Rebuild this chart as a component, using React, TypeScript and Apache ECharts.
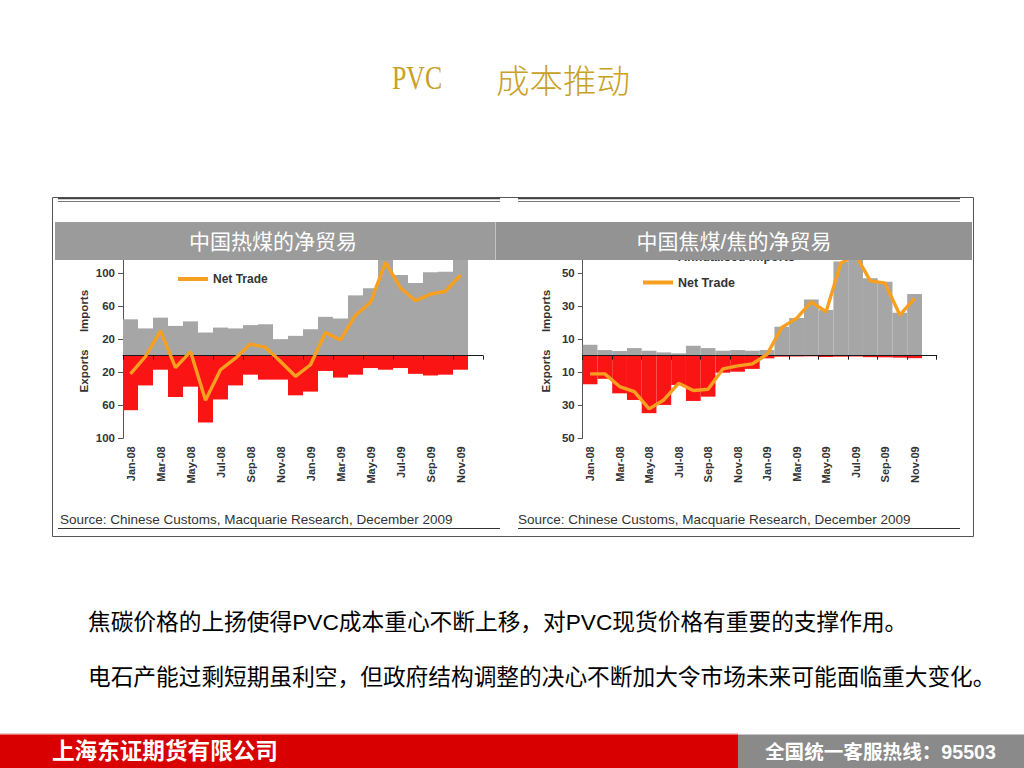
import React, { useEffect, useRef } from 'react';
import * as echarts from 'echarts';

const months = [
  'Jan-08', 'Feb-08', 'Mar-08', 'Apr-08', 'May-08', 'Jun-08', 'Jul-08', 'Aug-08', 'Sep-08', 'Oct-08', 'Nov-08', 'Dec-08',
  'Jan-09', 'Feb-09', 'Mar-09', 'Apr-09', 'May-09', 'Jun-09', 'Jul-09', 'Aug-09', 'Sep-09', 'Oct-09', 'Nov-09', 'Dec-09',
];

// 中国热煤的净贸易 (left panel)
const leftImports = [44, 33, 46, 36, 41.5, 28, 34, 33, 37, 38, 20, 24, 32, 47, 45, 73, 81.5, 130, 97.5, 88, 101, 101.5, 116];
const leftExports = [66, 36, 17, 50, 37.5, 81, 53, 36, 23, 29, 29, 48, 43.5, 18.5, 26.5, 23, 15, 17, 15, 22, 24, 23, 17];
const leftNet = [-22, -1, 30, -14.5, 5, -54, -17, -3, 14, 10, -7, -25, -11, 28, 19, 49, 64.5, 113, 82, 66.5, 74.5, 78, 97.5];

// 中国焦煤/焦的净贸易 (right panel)
const rightImports = [6.6, 3.4, 2.8, 4.6, 3, 2, 1.4, 6, 4.6, 3, 3.4, 3, 3.4, 17.5, 22.8, 34, 27.6, 57, 62, 46.8, 44.7, 26, 37.3];
const rightExports = [17.3, 14, 22.8, 26.8, 34.8, 29.8, 17.7, 27.4, 24.8, 10.3, 9.7, 8, 1.6, 0.6, 0.5, 0.4, 0.8, 0.6, 0.5, 0.9, 1, 1.2, 1.5];
const rightNet = [-11, -11, -18.7, -21.8, -32.2, -26.8, -16.7, -21.1, -20.3, -8, -6.2, -5, 0.8, 17.1, 22.6, 32.6, 26.6, 56, 61, 45.3, 43.9, 24.6, 34.7];

const leftTicks = [-100, -60, -20, 20, 60, 100];
const rightTicks = [-50, -30, -10, 10, 30, 50];

const titleLatin = 'PVC';
const titleCjk = '成本推动';
const leftPanelTitle = '中国热煤的净贸易';
const rightPanelTitle = '中国焦煤/焦的净贸易';
const sourceText = 'Source: Chinese Customs, Macquarie Research, December 2009';
const bodyLine1 = '焦碳价格的上扬使得PVC成本重心不断上移，对PVC现货价格有重要的支撑作用。';
const bodyLine2 = '电石产能过剩短期虽利空，但政府结构调整的决心不断加大令市场未来可能面临重大变化。';
const footerLeft = '上海东证期货有限公司';
const footerRight = '全国统一客服热线：95503';

const LAT = '"Liberation Sans", Arial, sans-serif';
const CJK = '"Liberation Sans", "Noto Sans CJK SC", sans-serif';
const GREY = '#a6a6a6';
const RED = '#fb1414';
const ORANGE = '#f7a020';
const GOLD = '#c9a124';

function xAxesFor(grid: number) {
  return [
    {
      type: 'category', gridIndex: grid, data: months, position: 'bottom', boundaryGap: true, z: 3,
      axisLine: { show: true, onZero: true, lineStyle: { color: '#1a1a1a', width: 1 } },
      axisTick: { show: true, interval: 1, length: 4, inside: false, lineStyle: { color: '#1a1a1a' } },
      axisLabel: { show: false },
      splitLine: { show: false },
    },
    {
      type: 'category', gridIndex: grid, data: months, position: 'bottom', boundaryGap: true,
      axisLine: { show: false, onZero: false },
      axisTick: { show: false },
      axisLabel: {
        interval: 1, rotate: 90, margin: 8,
        fontFamily: LAT, fontSize: 11, fontWeight: 'bold', color: '#333',
      },
      splitLine: { show: false },
    },
  ];
}

function yAxisFor(grid: number, min: number, max: number, ticks: number[]) {
  return {
    type: 'value', gridIndex: grid, min, max,
    axisLine: { show: true, lineStyle: { color: '#555', width: 1 } },
    axisTick: { show: true, length: 5, customValues: ticks, lineStyle: { color: '#555' } },
    axisLabel: {
      customValues: ticks,
      formatter: (v: number) => String(Math.abs(v)),
      margin: 8, fontFamily: LAT, fontSize: 11.5, fontWeight: 'bold', color: '#333',
    },
    splitLine: { show: false },
  };
}

function seriesFor(ax: number, imports: number[], exports: number[], net: number[]) {
  return [
    {
      name: 'Annualised Imports', type: 'bar', xAxisIndex: ax, yAxisIndex: ax / 2,
      data: imports, barWidth: '100%', barGap: '-100%', barCategoryGap: '0%',
      itemStyle: { color: GREY }, z: 2,
    },
    {
      name: 'Annualised Exports', type: 'bar', xAxisIndex: ax, yAxisIndex: ax / 2,
      data: exports.map((v) => -v), barWidth: '100%', barGap: '-100%', barCategoryGap: '0%',
      itemStyle: { color: RED }, z: 2,
    },
    {
      name: 'Net Trade', type: 'line', xAxisIndex: ax, yAxisIndex: ax / 2,
      data: net, showSymbol: false, symbol: 'none', smooth: false,
      lineStyle: { color: ORANGE, width: 3.4 }, itemStyle: { color: ORANGE }, z: 5,
    },
  ];
}

const T = (x: number, y: number, text: string, style: any, extra: any = {}) => ({
  type: 'text', x, y, z: 100, silent: true, ...extra,
  style: { text, verticalAlign: 'middle', ...style },
});

const graphics: any[] = [
  // page title
  T(392, 78, titleLatin, { fontFamily: '"Liberation Serif", serif', fontSize: 33, fill: GOLD }, { scaleX: 0.78 }),
  T(496, 78, titleCjk, { fontFamily: '"Noto Sans CJK SC", serif', fontSize: 33.5, fontWeight: 300, fill: GOLD }),
  // frame
  { type: 'rect', z: 100, silent: true, shape: { x: 52.5, y: 197.5, width: 921, height: 339 }, style: { fill: 'none', stroke: '#555', lineWidth: 1 } },
  { type: 'line', z: 100, silent: true, shape: { x1: 58, y1: 198.5, x2: 500, y2: 198.5 }, style: { stroke: '#444', lineWidth: 1.5 } },
  { type: 'line', z: 100, silent: true, shape: { x1: 518, y1: 198.5, x2: 960, y2: 198.5 }, style: { stroke: '#444', lineWidth: 1.5 } },
  { type: 'line', z: 100, silent: true, shape: { x1: 58, y1: 201.5, x2: 500, y2: 201.5 }, style: { stroke: '#777', lineWidth: 1 } },
  { type: 'line', z: 100, silent: true, shape: { x1: 518, y1: 201.5, x2: 960, y2: 201.5 }, style: { stroke: '#777', lineWidth: 1 } },
  { type: 'line', z: 100, silent: true, shape: { x1: 58, y1: 528.5, x2: 500, y2: 528.5 }, style: { stroke: '#333', lineWidth: 1 } },
  { type: 'line', z: 100, silent: true, shape: { x1: 518, y1: 528.5, x2: 960, y2: 528.5 }, style: { stroke: '#333', lineWidth: 1 } },
  // banners
  { type: 'rect', z: 100, silent: true, shape: { x: 55, y: 222, width: 440, height: 38 }, style: { fill: '#9b9b9b' } },
  { type: 'rect', z: 100, silent: true, shape: { x: 495, y: 222, width: 477, height: 38 }, style: { fill: '#939393' } },
  { type: 'line', z: 101, silent: true, shape: { x1: 495.5, y1: 222, x2: 495.5, y2: 260 }, style: { stroke: '#c4c4c4', lineWidth: 1 } },
  T(273, 241, leftPanelTitle, { fontFamily: CJK, fontSize: 21, fill: '#fff', align: 'center' }, { z: 102 }),
  T(734, 241, rightPanelTitle, { fontFamily: CJK, fontSize: 21, fill: '#fff', align: 'center' }, { z: 102 }),
  // axis names
  T(84, 311, 'Imports', { fontFamily: LAT, fontSize: 11.5, fontWeight: 'bold', fill: '#333', align: 'center' }, { rotation: Math.PI / 2 }),
  T(84, 371, 'Exports', { fontFamily: LAT, fontSize: 11.5, fontWeight: 'bold', fill: '#333', align: 'center' }, { rotation: Math.PI / 2 }),
  T(546, 311, 'Imports', { fontFamily: LAT, fontSize: 11.5, fontWeight: 'bold', fill: '#333', align: 'center' }, { rotation: Math.PI / 2 }),
  T(546, 371, 'Exports', { fontFamily: LAT, fontSize: 11.5, fontWeight: 'bold', fill: '#333', align: 'center' }, { rotation: Math.PI / 2 }),
  // sources
  T(60, 519, sourceText, { fontFamily: LAT, fontSize: 13.5, fill: '#333' }),
  T(518, 519, sourceText, { fontFamily: LAT, fontSize: 13.5, fill: '#333' }),
  // body text
  T(88, 622, bodyLine1, { fontFamily: CJK, fontSize: 22.7, fill: '#000' }),
  T(88, 677, bodyLine2, { fontFamily: CJK, fontSize: 22.7, fill: '#000' }),
  // footer
  { type: 'rect', z: 100, silent: true, shape: { x: 0, y: 733, width: 738, height: 1.5 }, style: { fill: '#f2c4c4' } },
  { type: 'rect', z: 100, silent: true, shape: { x: 0, y: 734.5, width: 738, height: 34 }, style: { fill: '#d80000' } },
  { type: 'rect', z: 100, silent: true, shape: { x: 738, y: 734.5, width: 286, height: 34 }, style: { fill: '#8a8a8a' } },
  T(52, 751, footerLeft, { fontFamily: CJK, fontSize: 22.6, fontWeight: 'bold', fill: '#fff' }, { z: 101 }),
  T(765, 752, footerRight, { fontFamily: CJK, fontSize: 19.6, fontWeight: 'bold', fill: '#fff' }, { z: 101 }),
];

const option: any = {
  animation: false,
  backgroundColor: '#fff',
  textStyle: { fontFamily: LAT },
  grid: [
    { left: 123, right: 541, top: 240, bottom: 329.7, containLabel: false },
    { left: 582.7, right: 87.3, top: 240, bottom: 329.7, containLabel: false },
  ],
  legend: [
    {
      orient: 'vertical', left: 173, top: 268, itemWidth: 30, itemHeight: 4, itemGap: 10,
      selectedMode: false,
      textStyle: { fontFamily: LAT, fontSize: 12, fontWeight: 'bold', color: '#333' },
      data: [{ name: 'Net Trade', icon: 'rect', itemStyle: { color: ORANGE, borderWidth: 0 } }],
    },
    {
      orient: 'vertical', left: 638, top: 245, itemWidth: 30, itemHeight: 4, itemGap: 13,
      selectedMode: false,
      textStyle: { fontFamily: LAT, fontSize: 12.5, fontWeight: 'bold', color: '#333' },
      data: [
        { name: 'Annualised Imports', icon: 'rect', itemStyle: { color: GREY, borderWidth: 0 } },
        { name: 'Net Trade', icon: 'rect', itemStyle: { color: ORANGE, borderWidth: 0 } },
      ],
    },
  ],
  xAxis: [...xAxesFor(0), ...xAxesFor(1)],
  yAxis: [yAxisFor(0, -100, 140, leftTicks), yAxisFor(1, -50, 70, rightTicks)],
  series: [
    ...seriesFor(0, leftImports, leftExports, leftNet),
    ...seriesFor(2, rightImports, rightExports, rightNet),
  ],
  graphic: { elements: graphics },
};

export default function App() {
  const ref = useRef<HTMLDivElement>(null);
  useEffect(() => {
    if (!ref.current) return;
    const chart = echarts.init(ref.current, null, { renderer: 'svg', width: 1024, height: 768 });
    chart.setOption(option);
    return () => chart.dispose();
  }, []);
  return (
    <div
      ref={ref}
      style={{ position: 'absolute', left: 0, top: 0, width: 1024, height: 768, background: '#fff' }}
    />
  );
}
